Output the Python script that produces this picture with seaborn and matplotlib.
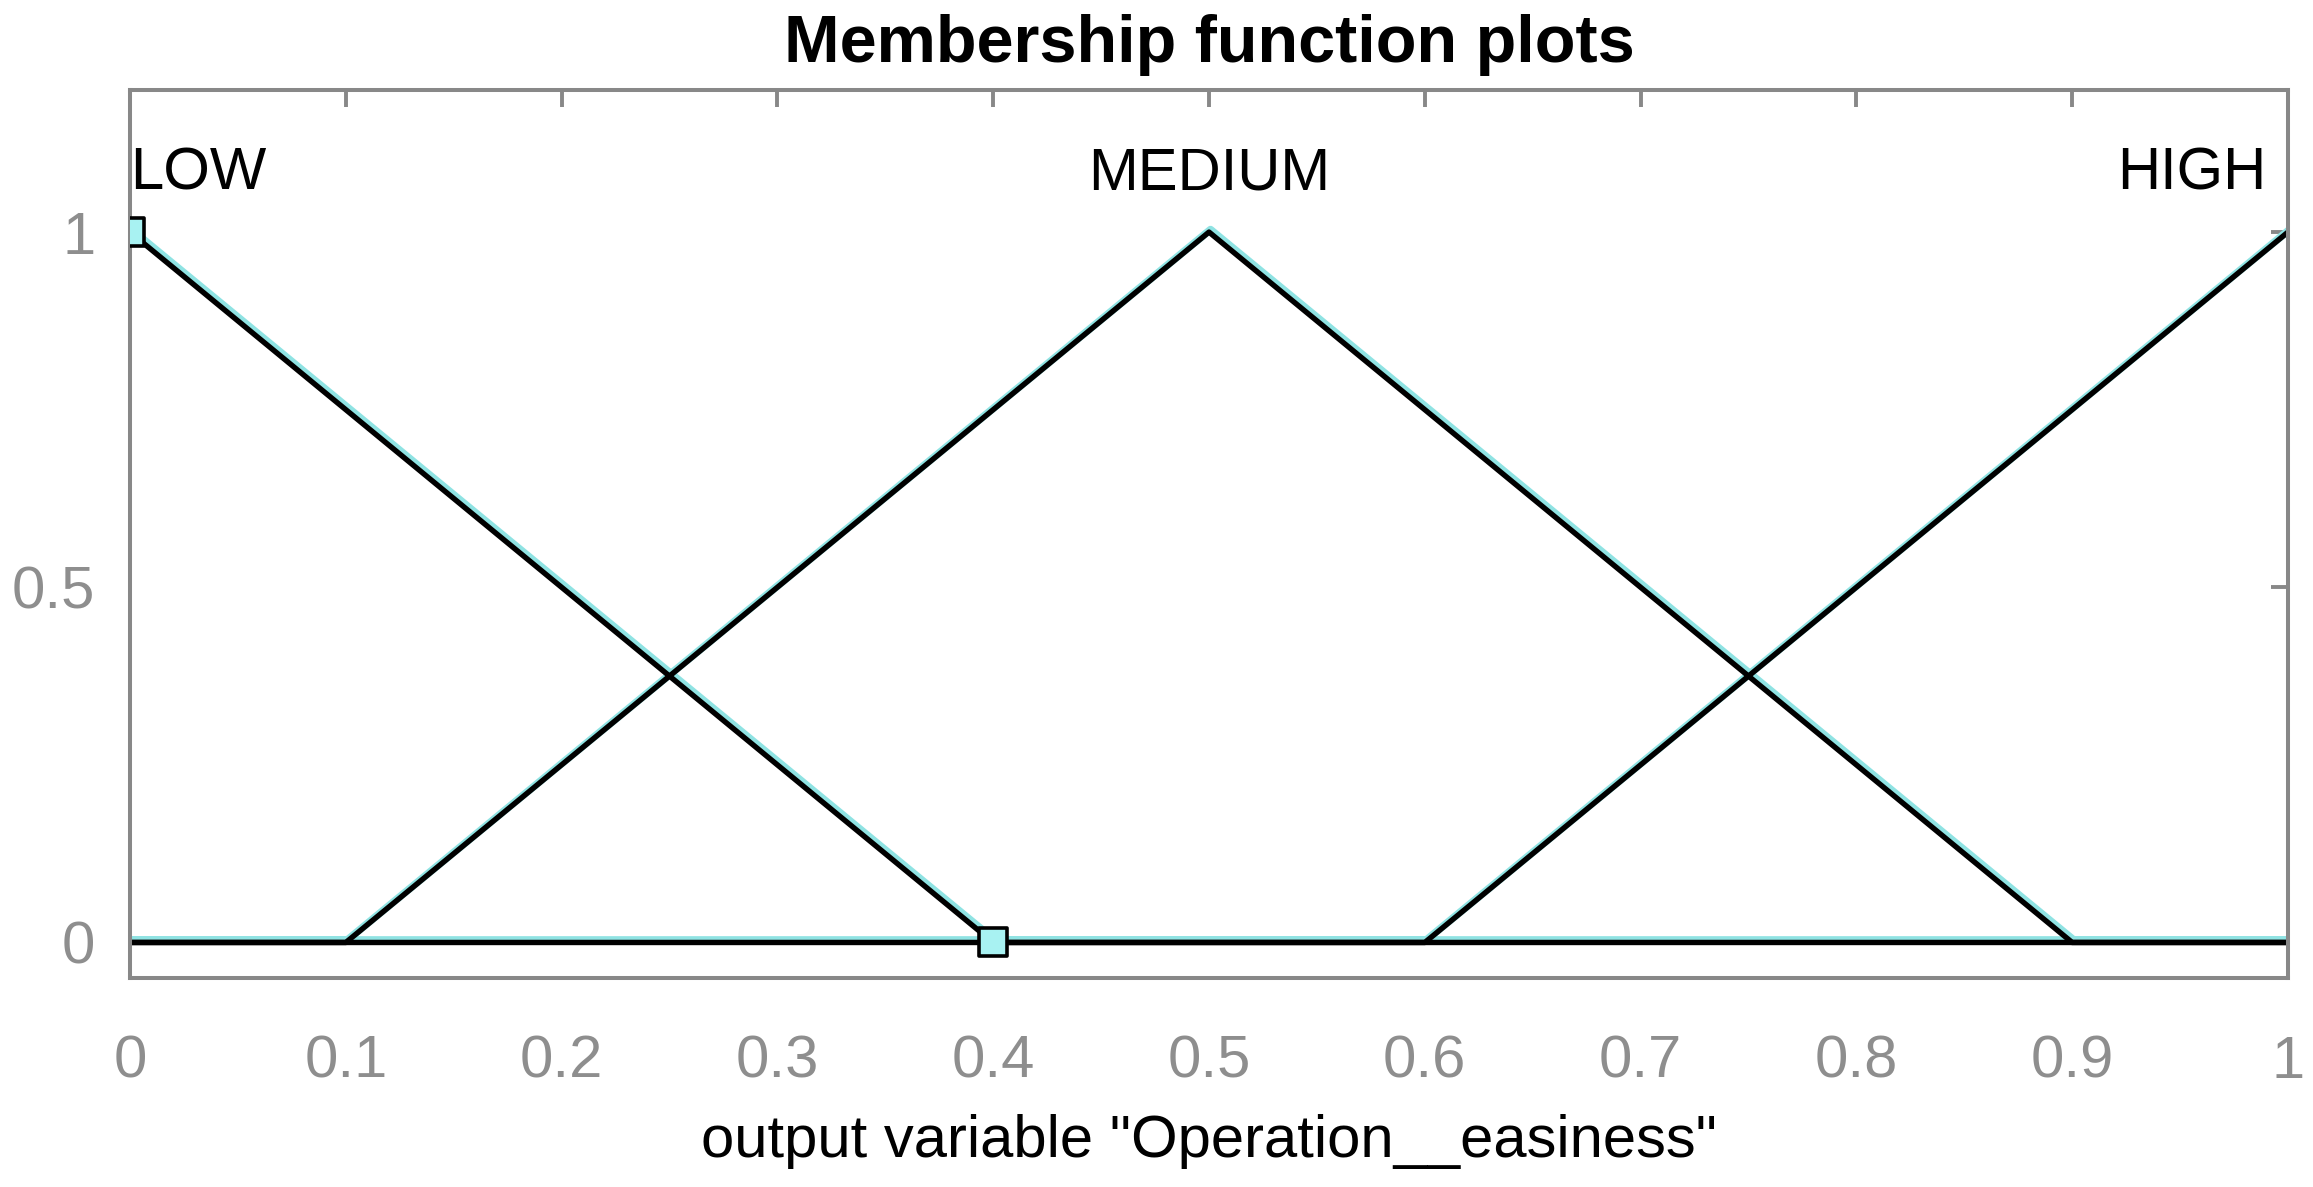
import numpy as np
import pandas as pd
import matplotlib
matplotlib.use("Agg")
import matplotlib.pyplot as plt
import matplotlib.transforms as mtransforms
import seaborn as sns

# ---- data ----
mf_names = ["LOW", "MEDIUM", "HIGH"]
low_x = [0.0, 0.4, 1.0]
low_y = [1.0, 0.0, 0.0]
medium_x = [0.0, 0.1, 0.5, 0.9, 1.0]
medium_y = [0.0, 0.0, 1.0, 0.0, 0.0]
high_x = [0.0, 0.6, 1.0]
high_y = [0.0, 0.0, 1.0]
marker_x = [0.0, 0.4]
marker_y = [1.0, 0.0]
label_x = [0.0, 0.5, 0.99]
label_y = [1.06, 1.06, 1.06]
label_ha = ["left", "center", "right"]
x_ticks = [0, 0.1, 0.2, 0.3, 0.4, 0.5, 0.6, 0.7, 0.8, 0.9, 1]
x_ticklabels = ["0", "0.1", "0.2", "0.3", "0.4", "0.5", "0.6", "0.7", "0.8", "0.9", "1"]
y_ticks = [0, 0.5, 1]
y_ticklabels = ["0", "0.5", "1"]
title = "Membership function plots"
xlabel = 'output variable "Operation__easiness"'

df = pd.concat([
    pd.DataFrame({"x": low_x, "mu": low_y, "mf": "LOW"}),
    pd.DataFrame({"x": medium_x, "mu": medium_y, "mf": "MEDIUM"}),
    pd.DataFrame({"x": high_x, "mu": high_y, "mf": "HIGH"}),
], ignore_index=True)

sns.set_theme(style="white")
plt.rcParams["font.family"] = ["Liberation Sans", "DejaVu Sans"]

dpi = 100
fig = plt.figure(figsize=(23.13, 11.87), dpi=dpi)
ax = fig.add_axes([130 / 2313, 1 - 978 / 1187, (2288 - 130) / 2313, (978 - 90) / 1187])

gray = "#888888"
# cyan fringe underlay (offset slightly)
fringe = mtransforms.offset_copy(ax.transData, fig=fig, x=1.5, y=2.5, units="dots")
sns.lineplot(data=df, x="x", y="mu", hue="mf", palette=["#8fe3e3"] * 3,
             sort=False, estimator=None, legend=False, linewidth=5.5,
             transform=fringe, ax=ax)
sns.lineplot(data=df, x="x", y="mu", hue="mf", palette=["black"] * 3,
             sort=False, estimator=None, legend=False, linewidth=3.9, ax=ax)

sns.scatterplot(x=marker_x, y=marker_y, marker="s", s=400, color="#a8f2f2",
                edgecolor="black", linewidth=2.6, zorder=5, ax=ax)

for name, lx, ly, ha in zip(mf_names, label_x, label_y, label_ha):
    ax.text(lx, ly, name, ha=ha, va="baseline", fontsize=43, color="black")

ax.set_xlim(0, 1)
ax.set_ylim(-0.05, 1.2)
ax.set_xticks(x_ticks)
ax.set_xticklabels(x_ticklabels)
ax.set_yticks(y_ticks)
ax.set_yticklabels(y_ticklabels)
ax.tick_params(axis="both", direction="in", length=12, width=2.8, color=gray,
               labelcolor="#8e8e8e", labelsize=43, top=True, right=True)
ax.tick_params(axis="x", pad=41)
ax.tick_params(axis="y", pad=25)
for sp in ax.spines.values():
    sp.set_color(gray)
    sp.set_linewidth(2.9)
    sp.set_visible(True)

ax.set_xlabel(xlabel, fontsize=43, color="black", labelpad=17)
ax.set_ylabel("")
ax.set_title(title, fontsize=48, fontweight="bold", color="black", pad=20)

fig.savefig("out.png", dpi=dpi, facecolor="white")
